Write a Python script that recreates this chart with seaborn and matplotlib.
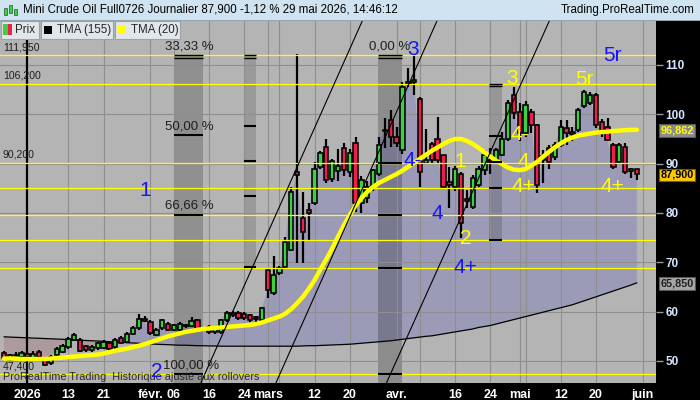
import numpy as np
import pandas as pd
import matplotlib
matplotlib.use("Agg")
import matplotlib.pyplot as plt
from matplotlib.patches import Rectangle
import seaborn as sns

# ------------------------------------------------------------------ data
sessions = pd.bdate_range("2025-12-26", "2026-05-29")
sessions = sessions[~sessions.isin(pd.to_datetime(["2026-01-01", "2026-04-03"]))]

opens = [51.7, 50.3, 51.0, 50.9, 51.5, 50.5, 51.9, 50.2, 49.5, 51.2,
         51.9, 52.8, 54.2, 54.3, 53.0, 52.2, 52.6, 52.6, 53.7, 52.8,
         54.6, 53.9, 55.5, 56.6, 58.6, 58.0, 55.3, 56.6, 57.6, 56.3,
         56.3, 57.3, 57.1, 58.3, 56.6, 56.9, 55.8, 55.8, 58.3, 59.3,
         59.7, 59.6, 59.3, 58.9, 58.3, 68.4, 63.7, 67.8, 69.1, 72.5,
         88.4, 78.9, 80.6, 82.0, 89.4, 93.4, 86.8, 88.6, 93.1, 88.4,
         94.1, 82.0, 83.0, 85.3, 88.0, 96.6, 98.8, 95.5, 92.8, 106.6,
         106.6, 103.2, 90.2, 94.0, 95.1, 91.7, 86.3, 85.3, 88.0, 82.8,
         81.3, 85.7, 88.7, 90.7, 90.4, 91.8, 95.1, 103.9, 100.5, 96.2,
         100.5, 97.8, 90.8, 93.1, 91.4, 93.8, 97.2, 96.5, 96.8, 101.6,
         102.2, 103.9, 98.5, 97.5, 93.8, 90.4, 93.4, 88.5, 88.9]
highs = [52.0, 51.5, 51.8, 52.0, 51.9, 52.0, 52.3, 50.6, 51.2, 52.8,
         53.4, 54.8, 55.6, 54.6, 53.3, 53.2, 53.9, 54.2, 54.0, 54.6,
         55.0, 55.8, 57.0, 59.5, 59.2, 58.3, 56.6, 58.6, 57.9, 57.6,
         57.9, 57.6, 59.0, 58.6, 56.9, 57.2, 57.1, 58.6, 60.1, 60.2,
         60.1, 59.9, 59.6, 59.2, 61.0, 68.8, 71.2, 69.2, 75.2, 85.3,
         112.2, 84.3, 82.0, 90.4, 92.5, 95.1, 91.0, 93.0, 94.1, 93.0,
         95.5, 87.5, 86.4, 89.0, 95.5, 99.2, 100.9, 97.5, 106.5, 109.3,
         111.95, 103.6, 97.0, 94.4, 99.5, 91.8, 89.4, 89.6, 88.4, 84.7,
         87.7, 89.6, 92.8, 93.1, 93.2, 96.5, 102.9, 105.6, 102.2, 102.6,
         101.0, 98.0, 92.8, 93.8, 94.4, 98.9, 98.9, 97.5, 101.2, 104.9,
         104.6, 104.3, 99.0, 99.2, 94.1, 94.1, 94.1, 89.2, 89.0]
lows = [50.2, 50.0, 50.6, 50.6, 50.4, 50.2, 50.6, 49.0, 49.2, 51.0,
        51.6, 52.5, 54.0, 51.8, 51.9, 51.9, 52.3, 52.4, 52.1, 52.5,
        53.4, 53.6, 55.2, 56.3, 57.9, 55.3, 55.0, 56.3, 56.0, 56.0,
        56.0, 56.7, 56.8, 56.1, 56.0, 55.5, 55.5, 55.5, 58.0, 59.0,
        58.4, 58.4, 58.0, 58.0, 58.0, 62.7, 63.4, 67.5, 68.8, 72.2,
        69.8, 69.8, 74.5, 81.6, 89.0, 86.0, 86.3, 86.5, 87.4, 87.3,
        80.3, 80.0, 82.0, 84.5, 87.5, 93.1, 93.4, 93.4, 92.0, 105.6,
        103.9, 85.3, 90.0, 90.0, 90.0, 85.0, 81.0, 84.5, 75.0, 81.0,
        80.8, 85.3, 87.7, 88.0, 90.0, 91.5, 94.5, 99.0, 94.5, 95.5,
        96.2, 84.0, 86.0, 89.0, 90.7, 93.4, 93.8, 94.5, 96.5, 101.2,
        101.9, 97.2, 95.5, 94.5, 89.0, 90.0, 88.0, 87.0, 86.7]
closes = [50.7, 51.2, 51.3, 51.7, 50.9, 51.5, 50.9, 49.2, 50.9, 52.4,
          53.0, 54.4, 55.3, 52.1, 52.2, 52.8, 53.6, 53.9, 52.4, 54.3,
          53.7, 55.4, 56.6, 58.6, 58.2, 55.6, 56.3, 58.3, 56.3, 57.3,
          57.6, 57.0, 58.1, 56.4, 56.3, 55.8, 56.8, 58.3, 59.8, 59.8,
          58.7, 58.7, 58.3, 58.5, 60.7, 64.4, 67.4, 68.8, 74.2, 84.3,
          87.7, 76.2, 79.9, 89.0, 92.1, 86.7, 90.5, 89.6, 88.7, 92.1,
          82.0, 86.7, 85.3, 88.7, 93.8, 96.9, 95.5, 94.1, 105.6, 106.2,
          106.8, 88.4, 90.8, 90.7, 90.7, 85.3, 85.7, 89.0, 77.9, 82.4,
          87.0, 89.0, 91.8, 90.4, 92.8, 95.1, 102.2, 100.2, 96.2, 101.9,
          97.8, 85.7, 91.5, 90.4, 93.8, 97.5, 96.2, 96.0, 100.9, 104.6,
          103.9, 97.8, 96.5, 94.8, 89.4, 93.8, 88.4, 88.9, 87.9]
tma20 = [50.5, 50.5, 50.5, 50.4, 50.4, 50.4, 50.4, 50.4, 50.5, 50.6,
         50.7, 50.8, 50.9, 51.0, 51.1, 51.2, 51.3, 51.5, 51.8, 52.1,
         52.3, 52.5, 52.8, 53.1, 53.4, 53.8, 54.2, 54.6, 55.0, 55.3,
         55.6, 55.9, 56.1, 56.3, 56.5, 56.6, 56.7, 56.8, 56.9, 57.0,
         57.1, 57.2, 57.3, 57.5, 57.8, 58.2, 58.6, 59.0, 59.6, 60.5,
         61.7, 63.0, 64.6, 66.4, 68.6, 70.6, 72.8, 75.2, 77.5, 79.6,
         81.5, 83.0, 84.3, 85.3, 86.1, 86.7, 87.3, 87.9, 88.6, 89.4,
         90.2, 91.0, 91.8, 92.6, 93.3, 94.0, 94.6, 95.0, 95.0, 94.6,
         94.0, 93.2, 92.3, 91.4, 90.6, 89.9, 89.2, 88.8, 88.7, 88.9,
         89.6, 90.4, 91.4, 92.4, 93.3, 94.1, 94.8, 95.3, 95.7, 95.9,
         96.1, 96.3, 96.4, 96.5, 96.6, 96.7, 96.8, 96.85, 96.862]
tma155 = [54.9, 54.85, 54.8, 54.75, 54.7, 54.65, 54.6, 54.55, 54.5, 54.45,
          54.4, 54.3, 54.25, 54.2, 54.15, 54.1, 54.05, 54.0, 53.9, 53.85,
          53.8, 53.7, 53.65, 53.6, 53.5, 53.45, 53.4, 53.35, 53.3, 53.25,
          53.2, 53.2, 53.15, 53.1, 53.1, 53.05, 53.05, 53.0, 53.0, 53.0,
          53.0, 53.0, 53.0, 53.0, 53.0, 53.0, 53.0, 53.0, 53.0, 53.0,
          53.0, 53.05, 53.1, 53.1, 53.15, 53.2, 53.25, 53.3, 53.35, 53.4,
          53.5, 53.6, 53.7, 53.8, 53.9, 54.0, 54.1, 54.25, 54.4, 54.55,
          54.7, 54.85, 55.0, 55.1, 55.3, 55.5, 55.7, 55.9, 56.1, 56.3,
          56.5, 56.8, 57.0, 57.2, 57.5, 57.8, 58.1, 58.4, 58.7, 59.0,
          59.3, 59.6, 59.9, 60.2, 60.5, 60.8, 61.1, 61.4, 61.8, 62.2,
          62.6, 63.0, 63.4, 63.8, 64.2, 64.6, 65.0, 65.4, 65.85]

# horizontal yellow levels
level_values = [111.95, 106.2, 90.2, 85.05, 79.675, 74.5, 68.92, 47.4]
left_label_values = [111.95, 106.2, 90.2, 47.4]
left_label_texts = ["111,950", "106,200", "90,200", "47,400"]

# Fibonacci drawing bands (session index range, top, bottom, tick levels)
band_start = [29.0, 41.0, 63.8, 82.8]
band_end = [34.0, 43.0, 67.9, 85.0]
band_top = [111.95, 111.95, 111.95, 106.2]
band_bottom = [40.0, 69.1, 40.0, 74.5]
band_ticks = [[95.8, 79.68, 47.4],
              [97.67, 90.5, 83.4, 69.1],
              [90.2, 79.675, 68.92, 47.4],
              [95.63, 90.35, 85.07, 74.5]]
band_alpha = [0.2, 0.14, 0.22, 0.16]

fib_texts = ["33,33 %", "50,00 %", "66,66 %", "100,00 %", "0,00 %"]
fib_text_x = [27.5, 27.5, 27.5, 27.1, 62.3]
fib_text_level = [111.95, 95.8, 79.68, 47.4, 111.95]

# trend lines (session index, price)
trend_p1 = [(36.86, 54.25), (49.66, 54.25), (74.7, 70.47)]
trend_p2 = [(55.63, 104.26), (73.2, 117.1), (90.05, 111.0)]

# Elliott wave labels
wave_texts = ["1", "2", "3", "4-", "4", "4+", "5r",
              "1", "2", "3", "4-", "4", "4+", "5r", "4+"]
wave_x = [24.1, 26.1, 69.8, 69.7, 73.9, 78.8, 103.8,
          77.8, 78.8, 86.7, 88.05, 88.7, 88.7, 99.0, 103.8]
wave_y = [84.66, 47.97, 113.04, 90.74, 79.8, 69.05, 112.0,
          90.34, 74.93, 107.36, 95.81, 90.34, 85.27, 106.96, 85.27]
wave_blue = [True] * 7 + [False] * 8

tick_dates = ["2026-01-02", "2026-01-13", "2026-01-21", "2026-02-02", "2026-02-06",
              "2026-02-16", "2026-02-24", "2026-03-02", "2026-03-12", "2026-03-20",
              "2026-04-01", "2026-04-16", "2026-04-24", "2026-05-01", "2026-05-12",
              "2026-05-20", "2026-06-01"]
tick_labels = ["2026", "13", "21", "févr.", "06", "16", "24", "mars", "12", "20",
               "avr.", "16", "24", "mai", "12", "20", "juin"]
extra_grid_dates = ["2026-03-04", "2026-04-08", "2026-05-04"]

# ------------------------------------------------------------------ style
sns.set_style("white")
plt.rcParams["font.family"] = ["Liberation Sans", "DejaVu Sans"]

BG = "#b4b4b4"
LAV = "#9b9bb7"
PINK = "#ad9a9c"
GRID = "#8e8e8e"
YEL = "#ffff00"
GREEN = "#3fcf45"
RED = "#ee1f4b"
BLUE = "#1414ff"

fig = plt.figure(figsize=(7, 4), dpi=100)
fig.patch.set_facecolor("black")
ax = fig.add_axes([0, 17 / 400, 656 / 700, 363 / 400])
ax.set_facecolor(BG)
for s in ax.spines.values():
    s.set_visible(False)

x = np.arange(len(sessions))
o = np.array(opens); h = np.array(highs); l = np.array(lows); c = np.array(closes)
t20 = np.array(tma20); t155 = np.array(tma155)

ax.set_xlim(-0.68, 111.26)
ax.set_ylim(45.54, 119.12)

# area between price and long average
ax.fill_between(x, c, t155, where=c >= t155, interpolate=True, color=LAV, lw=0, zorder=1)
ax.fill_between(x, c, t155, where=c <= t155, interpolate=True, color=PINK, lw=0, zorder=1)

# bands
for i0, i1, top, bot, ticks, a in zip(band_start, band_end, band_top, band_bottom, band_ticks, band_alpha):
    ax.add_patch(Rectangle((i0, bot), i1 - i0, top - bot, fc="black", alpha=a, lw=0, zorder=1.5))
    ax.hlines([top, top - 0.45], i0, i1, color="black", lw=1.0, zorder=7)
    ax.hlines(ticks, i0, i1, color="black", lw=1.5, zorder=7)

# grid
def session_pos(d):
    return int(np.searchsorted(sessions, pd.Timestamp(d)))

tick_pos = [session_pos(d) for d in tick_dates]
for p in tick_pos[1:] + [session_pos(d) for d in extra_grid_dates]:
    ax.axvline(p, color=GRID, lw=0.8, zorder=2)
for v in range(50, 120, 10):
    ax.axhline(v, color=GRID, lw=0.8, zorder=2)
ax.axvline(tick_pos[0], color="black", lw=1.6, zorder=2.5)

# long average
sns.lineplot(x=x, y=t155, ax=ax, color="black", linewidth=0.9, zorder=3)

# candles
up = c >= o
ax.vlines(x, l, h, color="black", lw=1.6, zorder=4)
ax.bar(x, np.maximum(np.abs(c - o), 0.3), bottom=np.minimum(o, c), width=0.74,
       color=np.where(up, GREEN, RED), edgecolor="black", linewidth=1.15, zorder=4.5)

# levels
ax.hlines(level_values, -1, 112, color=YEL, lw=0.9, zorder=5)

# short average
sns.lineplot(x=x, y=t20, ax=ax, color=YEL, linewidth=3.2, zorder=6)

# trend lines
for p1, p2 in zip(trend_p1, trend_p2):
    ax.axline(p1, p2, color="black", lw=0.8, zorder=6.5)

# texts
for v, t in zip(left_label_values, left_label_texts):
    ax.annotate(t, xy=(0, v), xycoords=("axes fraction", "data"), xytext=(2, 5.6),
                textcoords="offset points", ha="left", va="center", fontsize=7.6,
                color="#1e1e1e", zorder=8)
for t, xi, v in zip(fib_texts, fib_text_x, fib_text_level):
    ax.annotate(t, xy=(xi, v), xytext=(0, 6.2), textcoords="offset points",
                ha="left", va="center", fontsize=9.5, color="#1e1e1e", zorder=8)
for t, xi, yi, b in zip(wave_texts, wave_x, wave_y, wave_blue):
    ax.text(xi, yi, t, ha="center", va="center", fontsize=15,
            color=BLUE if b else YEL, zorder=9)
ax.text(0.004, 0.0165, "ProRealTime Trading  Historique ajusté aux rollovers",
        transform=ax.transAxes, fontsize=7.8, color="#2a2a2a", va="center", ha="left", zorder=8)

# axes ticks
ax.yaxis.tick_right()
ax.set_yticks(list(range(50, 111, 10)))
ax.tick_params(axis="y", length=5, width=1, color="#9a9a9a", labelcolor="#d5e6ff",
               labelsize=8.5, pad=2)
for tl in ax.get_yticklabels():
    tl.set_fontweight("bold")
ax.set_xticks(tick_pos)
ax.set_xticklabels(tick_labels)
ax.tick_params(axis="x", length=3, width=1, color="white", labelcolor="white",
               labelsize=9, pad=1.5)
for tl in ax.get_xticklabels():
    tl.set_fontweight("bold")
    tl.set_family(["Liberation Sans Narrow", "Liberation Sans", "DejaVu Sans"])

# value badges on right axis
badges = [(96.862, "96,862", "#8c8c8c", YEL),
          (87.9, "87,900", "#ffc800", "black"),
          (65.85, "65,850", "#a6a6a6", "#202020")]
for v, t, fc, tc in badges:
    ax.annotate(t, xy=(1, v), xycoords=("axes fraction", "data"), xytext=(3.2, -0.6),
                textcoords="offset points", ha="left", va="center", fontsize=7.8,
                color=tc, fontweight="bold", annotation_clip=False, zorder=10,
                bbox=dict(boxstyle="square,pad=0.12", fc=fc, ec="#5a5a5a", lw=0.8))

# ------------------------------------------------------------------ header
def fx(px):
    return px / 700

def fy(py):
    return 1 - py / 400

fig.add_artist(Rectangle((0, fy(20)), 1, 20 / 400, transform=fig.transFigure,
                         fc="#cfe3f0", ec="none", zorder=1))
fig.add_artist(Rectangle((0, fy(20.5)), 1, 1 / 400, transform=fig.transFigure,
                         fc="#8fa4b4", ec="none", zorder=1))
# small candle icon
for (x0, y0, w, hh, col) in [(4, 8, 3, 7, GREEN), (9, 5, 3, 8, GREEN), (14, 9, 3, 6, GREEN)]:
    fig.add_artist(Rectangle((fx(x0), fy(y0 + hh)), w / 700, hh / 400,
                             transform=fig.transFigure, fc=col, ec="#206020", lw=0.5, zorder=2))
fig.text(fx(23), fy(10), "Mini Crude Oil Full0726 Journalier 87,900 -1,12 % 29 mai 2026, 14:46:12",
         fontsize=8.3, color="black", va="center", ha="left")
fig.text(fx(695), fy(10), "Trading.ProRealTime.com", fontsize=8.3, color="black",
         va="center", ha="right")

# legend boxes
boxes = [(1, 39, "Prix"), (41, 113, "TMA (155)"), (115, 180, "TMA (20)")]
for x0, x1, t in boxes:
    fig.add_artist(Rectangle((fx(x0), fy(39)), (x1 - x0) / 700, 18 / 400,
                             transform=fig.transFigure, fc="#e2e6ea", ec="#98a2ac", lw=0.8, zorder=2))
fig.add_artist(Rectangle((fx(3), fy(35)), 4.5 / 700, 11 / 400, transform=fig.transFigure,
                         fc=GREEN, ec="none", zorder=3))
fig.add_artist(Rectangle((fx(7.5), fy(35)), 4.5 / 700, 11 / 400, transform=fig.transFigure,
                         fc=RED, ec="none", zorder=3))
fig.add_artist(Rectangle((fx(44), fy(34)), 8 / 700, 8 / 400, transform=fig.transFigure,
                         fc="black", ec="none", zorder=3))
fig.add_artist(Rectangle((fx(118), fy(34)), 8 / 700, 8 / 400, transform=fig.transFigure,
                         fc=YEL, ec="none", zorder=3))
fig.text(fx(15), fy(30), "Prix", fontsize=8.3, va="center", ha="left", zorder=4)
fig.text(fx(57), fy(30), "TMA (155)", fontsize=8.3, va="center", ha="left", zorder=4)
fig.text(fx(131), fy(30), "TMA (20)", fontsize=8.3, va="center", ha="left", zorder=4)

fig.savefig("out.png", dpi=100, facecolor=fig.get_facecolor())
